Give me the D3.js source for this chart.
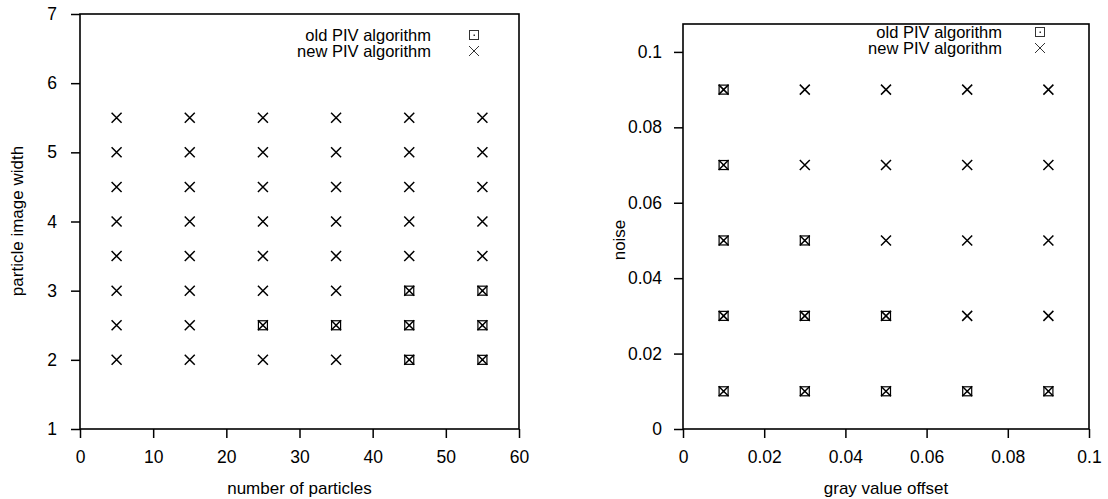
<!DOCTYPE html>
<html>
<head>
<meta charset="utf-8">
<script src="https://cdn.jsdelivr.net/npm/d3@7"></script>
<style>
  body { margin: 0; background: #fff; }
  svg text { font-family: "Liberation Sans", Arial, sans-serif; fill: #000; }
</style>
</head>
<body>
<svg id="chart" width="1108" height="499"></svg>
<script>
// left panel: particles vs image width
const particleCounts = [5, 15, 25, 35, 45, 55];
const imageWidths = [2, 2.5, 3, 3.5, 4, 4.5, 5, 5.5];
// points where the old algorithm also succeeded [x, y]
const oldLeft = [[25, 2.5], [35, 2.5], [45, 2], [45, 2.5], [45, 3], [55, 2], [55, 2.5], [55, 3]];
const leftXTicks = [0, 10, 20, 30, 40, 50, 60];
const leftYTicks = [1, 2, 3, 4, 5, 6, 7];

// right panel: gray value offset vs noise
const grayOffsets = [0.01, 0.03, 0.05, 0.07, 0.09];
const noiseLevels = [0.01, 0.03, 0.05, 0.07, 0.09];
const oldRight = [[0.01, 0.01], [0.01, 0.03], [0.01, 0.05], [0.01, 0.07], [0.01, 0.09],
  [0.03, 0.01], [0.03, 0.03], [0.03, 0.05],
  [0.05, 0.01], [0.05, 0.03],
  [0.07, 0.01], [0.09, 0.01]];
const rightXTicks = [0, 0.02, 0.04, 0.06, 0.08, 0.1];
const rightYTicks = [0, 0.02, 0.04, 0.06, 0.08, 0.1];

const legendLabels = ['old PIV algorithm', 'new PIV algorithm'];

const FS = 17.5;

function grid(xs, ys) {
  const out = [];
  xs.forEach(x => ys.forEach(y => out.push([x, y])));
  return out;
}

const svg = d3.select('#chart');

function drawPanel(p) {
  const x = d3.scaleLinear().domain(p.xDomain).range([p.left, p.right]);
  const y = d3.scaleLinear().domain(p.yDomain).range([p.bottom, p.top]);
  const g = svg.append('g');

  const fmt = d => String(+d.toFixed(4));

  const xa = g.append('g')
    .attr('transform', `translate(0,${p.bottom})`)
    .call(d3.axisBottom(x).tickValues(p.xTicks).tickSize(9).tickPadding(13).tickFormat(fmt));
  const ya = g.append('g')
    .attr('transform', `translate(${p.left},0)`)
    .call(d3.axisLeft(y).tickValues(p.yTicks).tickSize(9).tickPadding(p.yPad).tickFormat(fmt));
  [xa, ya].forEach(a => {
    a.select('.domain').remove();
    a.selectAll('line').attr('stroke', '#000').attr('stroke-width', 1.5);
    a.selectAll('text').attr('font-size', FS).attr('font-family', '"Liberation Sans", Arial, sans-serif');
  });

  g.append('rect')
    .attr('x', p.left).attr('y', p.top)
    .attr('width', p.right - p.left).attr('height', p.bottom - p.top)
    .attr('fill', 'none').attr('stroke', '#000').attr('stroke-width', 1.6);

  g.append('text')
    .attr('x', (p.left + p.right) / 2).attr('y', 494)
    .attr('text-anchor', 'middle').attr('font-size', FS - 0.5)
    .text(p.xLabel);
  g.append('text')
    .attr('transform', `translate(${p.yLabelX},${p.yLabelY}) rotate(-90)`)
    .attr('text-anchor', 'middle').attr('font-size', FS - 0.5)
    .text(p.yLabel);

  // old algorithm: square with centre dot
  const sq = g.append('g').selectAll('g').data(p.old).join('g')
    .attr('transform', d => `translate(${x(d[0])},${y(d[1])})`);
  sq.append('rect').attr('x', -4.5).attr('y', -4.5).attr('width', 9).attr('height', 9)
    .attr('fill', 'none').attr('stroke', '#000').attr('stroke-width', 1.2);
  sq.append('rect').attr('x', -1).attr('y', -1).attr('width', 2).attr('height', 2).attr('fill', '#000');

  // new algorithm: cross
  g.append('g').selectAll('path').data(p.newPts).join('path')
    .attr('d', d => {
      const cx = x(d[0]), cy = y(d[1]), s = 5;
      return `M${cx - s},${cy - s}L${cx + s},${cy + s}M${cx - s},${cy + s}L${cx + s},${cy - s}`;
    })
    .attr('stroke', '#000').attr('stroke-width', 1.5).attr('fill', 'none');

  // legend
  legendLabels.forEach((lab, i) => {
    const ly = p.legendY + i * 16;
    g.append('text')
      .attr('x', p.legendTextX).attr('y', ly + 5.5)
      .attr('text-anchor', 'end').attr('font-size', 16.5)
      .text(lab);
    const mx = p.legendMarkX;
    if (i === 0) {
      g.append('rect').attr('x', mx - 4.5).attr('y', ly - 4.5).attr('width', 9).attr('height', 9)
        .attr('fill', 'none').attr('stroke', '#333').attr('stroke-width', 1);
      g.append('rect').attr('x', mx - 0.5).attr('y', ly - 0.5).attr('width', 1.5).attr('height', 1.5).attr('fill', '#333');
    } else {
      g.append('path')
        .attr('d', `M${mx - 5},${ly - 5}L${mx + 5},${ly + 5}M${mx - 5},${ly + 5}L${mx + 5},${ly - 5}`)
        .attr('stroke', '#333').attr('stroke-width', 1);
    }
  });
}

drawPanel({
  left: 80, right: 519, top: 14, bottom: 429,
  xDomain: [0, 60], yDomain: [1, 7],
  xTicks: leftXTicks, yTicks: leftYTicks, yPad: 14,
  xLabel: 'number of particles', yLabel: 'particle image width',
  yLabelX: 23, yLabelY: 221,
  old: oldLeft, newPts: grid(particleCounts, imageWidths),
  legendY: 35, legendTextX: 431, legendMarkX: 474
});

drawPanel({
  left: 683, right: 1089, top: 24, bottom: 429,
  xDomain: [0, 0.1], yDomain: [0, 0.1074],
  xTicks: rightXTicks, yTicks: rightYTicks, yPad: 12,
  xLabel: 'gray value offset', yLabel: 'noise',
  yLabelX: 625, yLabelY: 240,
  old: oldRight, newPts: grid(grayOffsets, noiseLevels),
  legendY: 32, legendTextX: 1002, legendMarkX: 1040
});
</script>
</body>
</html>
